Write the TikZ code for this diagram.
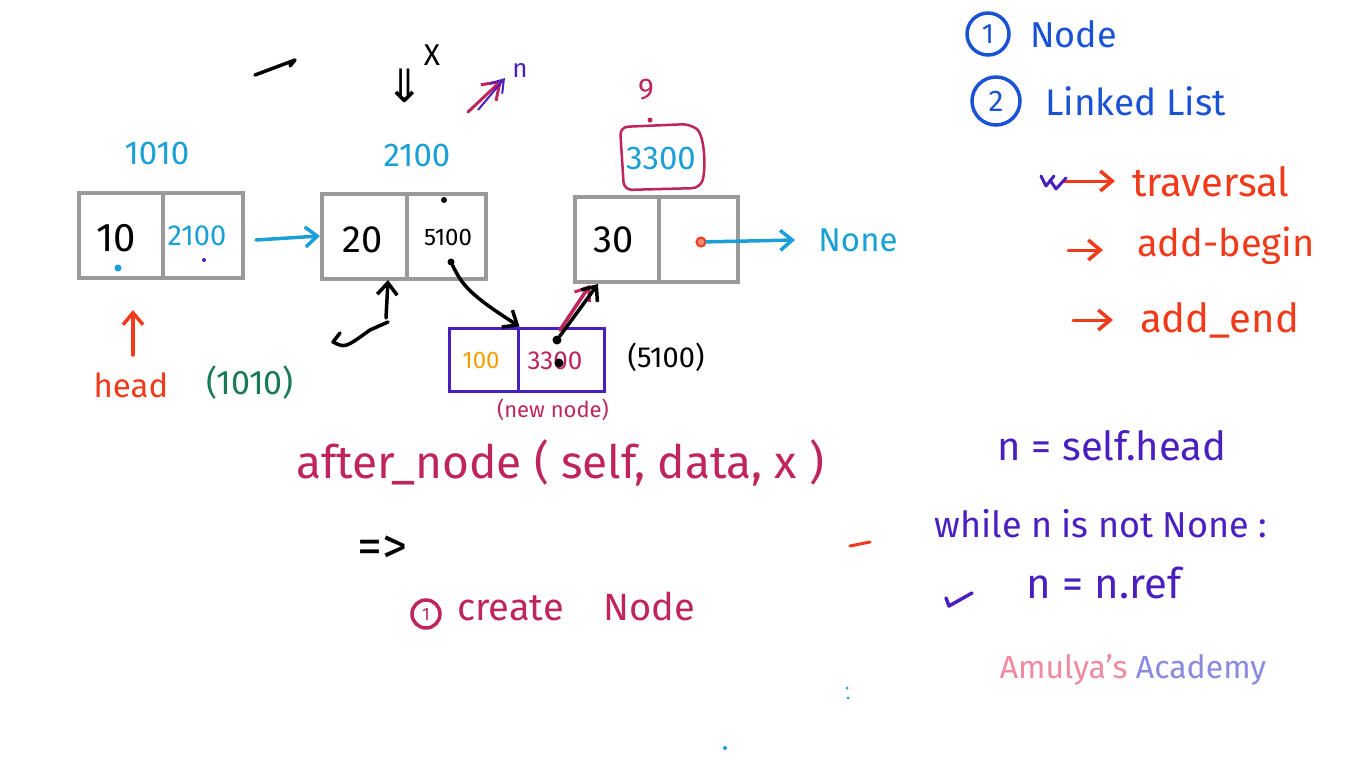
\documentclass[tikz,border=0pt]{standalone}
\usepackage{fontspec}
\setmainfont{Fira Sans}
\newfontfamily\symf{DejaVu Sans}
\usetikzlibrary{arrows.meta}
\definecolor{cyanI}{HTML}{1A9FD6}
\definecolor{magI}{HTML}{C0245C}
\definecolor{purI}{HTML}{4A1FC0}
\definecolor{blueI}{HTML}{1A52D6}
\definecolor{redI}{HTML}{F03A1A}
\definecolor{greenI}{HTML}{1A7A5A}
\definecolor{orangeI}{HTML}{F5A000}
\definecolor{pinkI}{HTML}{F08AA0}
\definecolor{lavI}{HTML}{8A8AE0}
\definecolor{grayI}{HTML}{9A9A9A}
\tikzset{
  cell/.style={draw=grayI,line width=4pt,minimum width=84pt,minimum height=85pt,inner sep=0pt},
  ncell/.style={draw=purI,line width=3pt,minimum height=63pt,inner sep=0pt},
  txt/.style={inner sep=0pt,anchor=center},
  pen/.style={line width=3.5pt,line cap=round,line join=round},
  arr/.style={pen,-{Straight Barb[length=12pt,width=20pt,line width=3.5pt]}},
  dotn/.style={circle,fill,inner sep=0pt,minimum size=7pt},
  ring/.style={circle,draw,line width=3.5pt,inner sep=0pt},
}
\newcommand{\fs}[1]{\fontsize{#1}{#1}\selectfont}
\begin{document}
\begin{tikzpicture}[x=1pt,y=-1pt]
\useasboundingbox[fill=white] (0,0) rectangle (1366,768);
% boxes
\node[cell] (b1d) at (121,235.5) {};
\node[cell,minimum width=80pt] (b1n) at (203,235.5) {};
\node[cell,minimum width=85pt] (b2d) at (364.5,236) {};
\node[cell,minimum width=79pt] (b2n) at (446.5,236) {};
\node[cell] (b3d) at (617,239) {};
\node[cell,minimum width=79pt] (b3n) at (698.5,239) {};
% box contents
\node[txt,font=\fs{40}] (v10) at (116,238) {10};
\node[txt,font=\fs{29},text=cyanI] (p2100) at (197,236) {2100};
\node[txt,font=\fs{38}] (v20) at (363,240) {20};
\node[txt,font=\fs{24}] (p5100) at (448,237) {5100};
\node[txt,font=\fs{38}] (v30) at (614,240) {30};
% small dots
\node[dotn,cyanI] (d1) at (118,268) {};
\node[dotn,purI,minimum size=4pt] (d2) at (204,260) {};
\node[dotn,minimum size=6pt] (d3) at (444,200) {};
\node[dotn] (d4) at (451,262) {};
\node[circle,draw=redI,fill=redI!60,line width=2pt,inner sep=0pt,minimum size=9pt] (d5) at (701,242) {};
% address labels
\node[txt,font=\fs{33},text=cyanI] (a1010) at (157,153) {1010};
\node[txt,font=\fs{33},text=cyanI] (a2100) at (417,155) {2100};
\node[txt,font=\fs{33},text=cyanI] (a3300) at (661,158) {3300};
\draw[magI,line width=2.5pt,rounded corners=8pt] (624,190) -- (620,127) -- (690,124) .. controls (705,135) and (706,170) .. (700,188) -- cycle;
\node[txt,font=\fs{30},text=magI] (q9) at (646,90) {9};
\node[dotn,magI,minimum size=5pt] (d9) at (650,120) {};
% None
\node[txt,font=\fs{33},text=cyanI] (none) at (858,240) {None};
\coordinate (noneL) at (795,240);
\draw[arr,cyanI] (d5) -- (noneL);
\coordinate (a1s) at (256,240);
\draw[arr,cyanI] (a1s) -- (b2d.west);
% top marks
\coordinate (t1) at (255,75);
\coordinate (t2) at (295,60);
\draw[pen] (t1) -- (t2) -- (290,66);
\node[txt,font=\fs{46}] (dx) at (405,86) {\symf ⇓};
\node[txt,font=\fs{30}] (X) at (432,55) {X};
\coordinate (m1) at (468,112);
\coordinate (m2) at (502,80);
\draw[magI,pen,line width=3pt,-{Straight Barb[length=16pt,width=22pt,line width=3pt]}] (m1) -- (m2);
\draw[purI,line width=2pt,-{Straight Barb[length=12pt,width=16pt,line width=2pt]}] (478,110) -- (505,78);
\node[txt,font=\fs{26},text=purI] (nn) at (520,70) {n};
% new node
\node[ncell,minimum width=69pt] (nd) at (483.5,359.5) {};
\node[ncell,minimum width=86pt] (nr) at (561,359.5) {};
\node[txt,font=\fs{24},text=orangeI] (v100) at (481,360) {100};
\node[txt,font=\fs{26},text=magI] (p3300) at (555,361) {3300};
\node[dotn,minimum size=9pt] (d6) at (557,340) {};
\node[dotn,minimum size=9pt] (d7) at (559,363) {};
\node[txt,font=\fs{29}] (a5100) at (666,357) {(5100)};
\node[txt,font=\fs{22},text=magI] (newn) at (553,410) {(new node)};
% connectors
\draw[arr] (d4) .. controls (462,285) and (470,295) .. (nd.north east);
\coordinate (b3in) at (598,284);
\coordinate (b3inm) at (590,285);
\draw[magI,pen,-{Straight Barb[length=12pt,width=18pt,line width=3pt]}] (560,330) -- (b3inm);
\draw[arr] (d6) -- (b3in);
\coordinate (c1) at (333,342);
\coordinate (c2) at (388,322);
\coordinate (b2up) at (388,280);
\draw[pen] (340,333) -- (c1) .. controls (345,348) .. (370,330) -- (c2);
\draw[arr] (386,318) -- (b2up);
% head
\node[txt,font=\fs{33},text=redI] (head) at (131,385) {head};
\node[txt,font=\fs{34},text=greenI] (h1010) at (250,383) {(1010)};
\coordinate (hs) at (133,355);
\coordinate (he) at (133,310);
\draw[arr,redI] (hs) -- (he);
% function signature
\node[txt,font=\fs{46},text=magI] (sig) at (560,463) {after\_node ( self, data, x )};
\node[txt,font=\fs{50}] (imp) at (382,550) {=>};
\node[txt,font=\fs{38},text=magI,anchor=west] (create) at (457,606) {create\hspace{40pt}Node};
\node[ring,magI,minimum size=28pt] (cr1) at (426,614) {};
\node[txt,font=\fs{18},text=magI] at (cr1) {1};
% right column
\node[ring,blueI,minimum size=42pt] (o1) at (988,34) {};
\node[txt,font=\fs{28},text=blueI] at (o1) {1};
\node[txt,font=\fs{36},text=blueI,anchor=west] (r1) at (1030,34) {Node};
\node[ring,blueI,minimum size=48pt] (o2) at (996,101) {};
\node[txt,font=\fs{30},text=blueI] at (o2) {2};
\node[txt,font=\fs{37},text=blueI,anchor=west] (r2) at (1045,101) {Linked List};
\node[txt,font=\fs{40},text=redI,anchor=west] (r3) at (1132,182) {traversal};
\node[txt,font=\fs{38},text=redI,anchor=west] (r4) at (1137,246) {add-begin};
\node[txt,font=\fs{40},text=redI,anchor=west] (r5) at (1140,320) {add\_end};
\coordinate (s3) at (1063,181);
\coordinate (e3) at (1115,181);
\coordinate (s4) at (1068,250);
\coordinate (e4) at (1103,250);
\coordinate (s5) at (1073,320);
\coordinate (e5) at (1113,320);
\draw[arr,redI,line width=3pt] (s3) -- (e3);
\draw[arr,redI,line width=3pt] (s4) -- (e4);
\draw[arr,redI,line width=3pt] (s5) -- (e5);
\draw[purI,pen,line width=3pt] (1041,176) -- (1046,186) -- (1054,176);
\draw[purI,pen,line width=3pt] (1050,180) -- (1056,189) -- (1066,178);
% code on right
\node[txt,font=\fs{40},text=purI] (c1t) at (1112,446) {n = self.head};
\node[txt,font=\fs{36},text=purI] (c2t) at (1101,524) {while n is not None :};
\node[txt,font=\fs{42},text=purI] (c3t) at (1104,583) {n = n.ref};
\draw[redI,line width=3pt,line cap=round] (850,546) -- (870,542);
\draw[purI,pen] (946,598) -- (949,606) -- (972,593);
% watermark
\node[txt,font=\fs{32}] (wm) at (1133,670) {\textcolor{pinkI}{Amulya's} \textcolor{lavI}{Academy}};
% stray dots
\node[dotn,cyanI,minimum size=3pt] (s1) at (847,688) {};
\node[dotn,cyanI,minimum size=3pt] (s2) at (848,698) {};
\node[dotn,cyanI,minimum size=4pt] (s6) at (725,748) {};
\end{tikzpicture}
\end{document}
